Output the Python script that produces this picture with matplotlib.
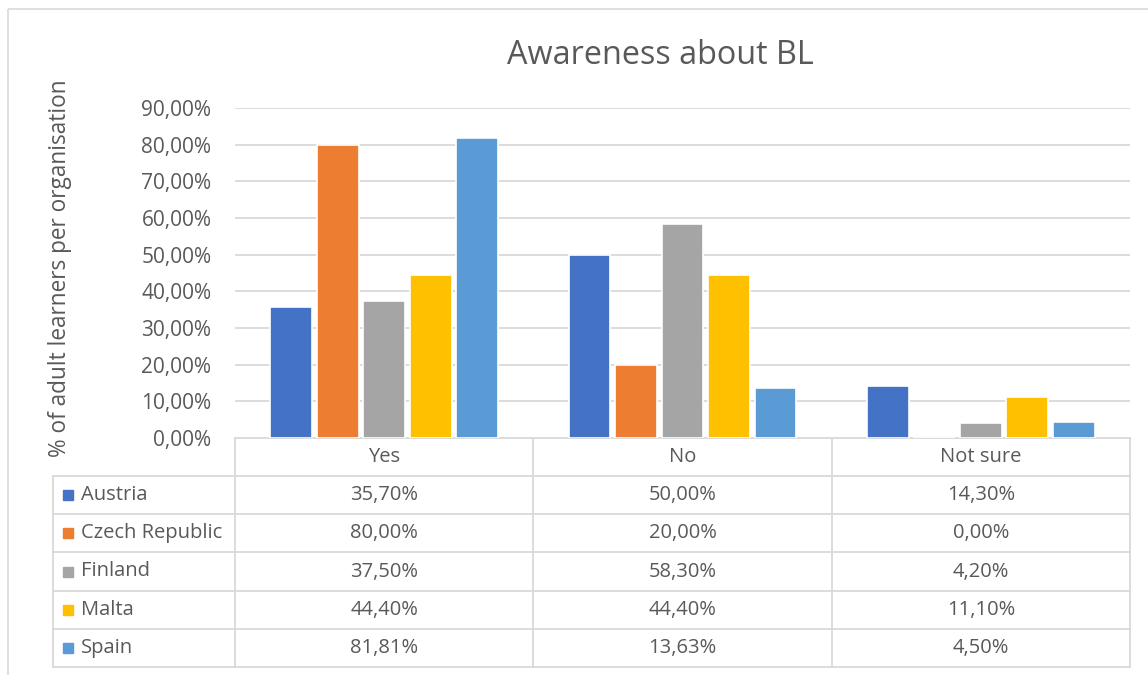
import matplotlib.pyplot as plt
from matplotlib.patches import Rectangle

plt.rcParams['font.family'] = ['Open Sans', 'DejaVu Sans']

# данные
categories = ["Yes", "No", "Not sure"]
countries = ["Austria", "Czech Republic", "Finland", "Malta", "Spain"]
austria = [35.70, 50.00, 14.30]
czech = [80.00, 20.00, 0.00]
finland = [37.50, 58.30, 4.20]
malta = [44.40, 44.40, 11.10]
spain = [81.81, 13.63, 4.50]
series = [austria, czech, finland, malta, spain]
colors = ["#4472C4", "#ED7D31", "#A5A5A5", "#FFC000", "#5B9BD5"]
yticks = [0, 10, 20, 30, 40, 50, 60, 70, 80, 90]

W, H = 1148, 675
txt = "#595959"
grid = "#d9d9d9"
fs = 14.5

fig = plt.figure(figsize=(W / 100, H / 100), dpi=100)

# рамка и таблица в пиксельных координатах
ov = fig.add_axes([0, 0, 1, 1])
ov.set_xlim(0, W)
ov.set_ylim(H, 0)
ov.axis("off")
ov.add_patch(Rectangle((8, 9), 1200, 700, fill=False, ec=grid, lw=1.2))

x0, x1 = 235, 1130
y0 = 438
lab_x = 53
row_h = 38.2
head_h = 38
ncol = len(categories)
col_w = (x1 - x0) / ncol

ax = fig.add_axes([x0 / W, (H - y0) / H, (x1 - x0) / W, (y0 - 108) / H])
ax.set_xlim(0, ncol)
ax.set_ylim(0, 90)

bw = 0.14
step = 0.156
for i, (vals, c) in enumerate(zip(series, colors)):
    xs = [k + 0.5 + (i - 2) * step for k in range(ncol)]
    ax.bar(xs, vals, width=bw, color=c, edgecolor="white", linewidth=1.2, zorder=3)

ax.set_yticks(yticks)
ax.set_yticklabels([f"{v:.2f}%".replace(".", ",") for v in yticks], color=txt, fontsize=15)
ax.tick_params(axis="y", length=0, pad=17)
ax.set_xticks([])
ax.grid(axis="y", color=grid, lw=1.3, zorder=0)
for s in ax.spines.values():
    s.set_visible(False)
ax.set_ylabel("% of adult learners per organisation", color=txt, fontsize=16.3)
ax.yaxis.set_label_coords(-(x0 - 60) / (x1 - x0), 0.514)
ax.yaxis.label.set_va("center")

fig.text(660 / W, 1 - 55 / H, "Awareness about BL", ha="center", va="center",
         fontsize=23.3, color=txt)

# таблица
y_bot = y0 + head_h + row_h * len(countries)
ov.plot([x0, x1], [y0, y0], color=grid, lw=1.3)
for r in range(len(countries) + 1):
    y = y0 + head_h + r * row_h
    ov.plot([lab_x, x1], [y, y], color=grid, lw=1.3)
ov.plot([lab_x, lab_x], [y0 + head_h, y_bot], color=grid, lw=1.3)
for k in range(ncol + 1):
    ov.plot([x0 + k * col_w] * 2, [y0, y_bot], color=grid, lw=1.3)

for k, cat in enumerate(categories):
    ov.text(x0 + (k + 0.5) * col_w, y0 + head_h / 2, cat, ha="center", va="center",
            fontsize=fs, color=txt)

for r, (name, vals, c) in enumerate(zip(countries, series, colors)):
    yc = y0 + head_h + (r + 0.5) * row_h
    ov.add_patch(Rectangle((63, yc - 5), 10, 10, color=c))
    ov.text(81, yc, name, ha="left", va="center", fontsize=fs, color=txt)
    for k, v in enumerate(vals):
        ov.text(x0 + (k + 0.5) * col_w, yc, f"{v:.2f}%".replace(".", ","),
                ha="center", va="center", fontsize=fs, color=txt)

fig.savefig("out.png", dpi=100)
